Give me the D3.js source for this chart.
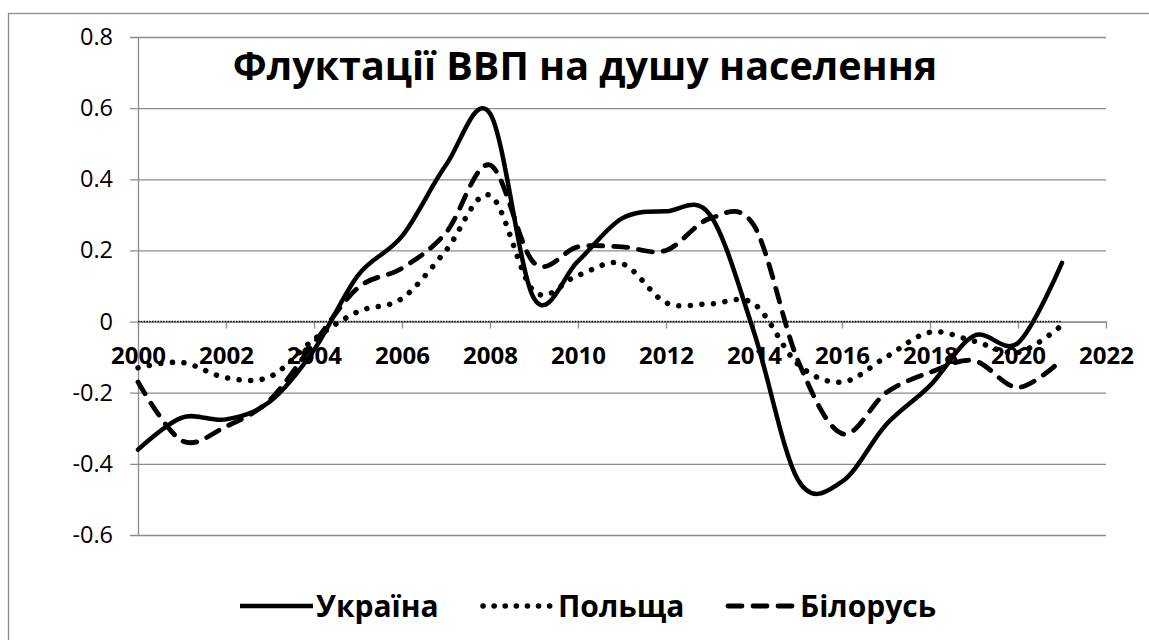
<!DOCTYPE html>
<html>
<head>
<meta charset="utf-8">
<script src="https://cdn.jsdelivr.net/npm/d3@7"></script>
<style>
  body { margin: 0; background: #fff; }
  svg { display: block; font-family: "Open Sans", sans-serif; }
</style>
</head>
<body>
<div id="chart"></div>
<script>
// yearly values
var years = [2000, 2001, 2002, 2003, 2004, 2005, 2006, 2007, 2008, 2009, 2010,
             2011, 2012, 2013, 2014, 2015, 2016, 2017, 2018, 2019, 2020, 2021];
var ukraine = [-0.36, -0.27, -0.275, -0.225, -0.08, 0.13, 0.24, 0.44, 0.585, 0.065, 0.17,
               0.29, 0.31, 0.30, -0.03, -0.445, -0.45, -0.29, -0.18, -0.04, -0.06, 0.165];
var poland = [-0.13, -0.115, -0.158, -0.155, -0.05, 0.028, 0.065, 0.2, 0.355, 0.085, 0.13,
              0.163, 0.053, 0.05, 0.05, -0.12, -0.17, -0.1, -0.03, -0.055, -0.087, -0.01];
var belarus = [-0.17, -0.335, -0.295, -0.22, -0.06, 0.095, 0.15, 0.25, 0.44, 0.165, 0.21,
               0.21, 0.2, 0.29, 0.27, -0.11, -0.315, -0.2, -0.143, -0.11, -0.185, -0.107];
var seriesNames = ["Україна", "Польща", "Білорусь"];
var xTicks = [2000, 2002, 2004, 2006, 2008, 2010, 2012, 2014, 2016, 2018, 2020, 2022];
var yTicks = [-0.6, -0.4, -0.2, 0, 0.2, 0.4, 0.6, 0.8];
var title = "Флуктації ВВП на душу населення";

var W = 1149, H = 640;
var svg = d3.select("#chart").append("svg").attr("width", W).attr("height", H);

// outer chart frame (runs off the right and bottom edge)
svg.append("rect")
  .attr("x", 8.5).attr("y", 13.5)
  .attr("width", 1300).attr("height", 800)
  .style("fill", "none").style("stroke", "#8c8c8c").style("stroke-width", 1.3);

var x = d3.scaleLinear().domain([2000, 2022]).range([138, 1106]);
var y = d3.scaleLinear().domain([-0.6, 0.8]).range([535, 37]);

var grey = "#8c8c8c";

// horizontal gridlines + y ticks
var yAxis = svg.append("g")
  .attr("transform", "translate(" + x(2000) + ",0)")
  .call(d3.axisLeft(y).tickValues(yTicks).tickSizeInner(-(x(2022) - x(2000)))
        .tickSizeOuter(0).tickPadding(25)
        .tickFormat(function(d) { return d === 0 ? "0" : d.toFixed(1); }));
yAxis.selectAll(".tick line").attr("x1", -8).style("stroke", grey).style("stroke-width", 1.3);
yAxis.select(".domain").style("stroke", grey).style("stroke-width", 1.3);
yAxis.selectAll("text")
  .style("font-family", "Open Sans").style("font-size", "23.5px").style("fill", "#000");

// x axis at zero
var xAxis = svg.append("g")
  .attr("transform", "translate(0," + y(0) + ")")
  .call(d3.axisBottom(x).tickValues(xTicks).tickSizeInner(7).tickSizeOuter(0)
        .tickPadding(18).tickFormat(d3.format("d")));
xAxis.selectAll(".tick line").style("stroke", grey).style("stroke-width", 1.3);
xAxis.select(".domain").style("stroke", grey).style("stroke-width", 1.3);
xAxis.selectAll("text")
  .style("font-family", "Open Sans").style("font-size", "24px")
  .style("font-weight", "bold").style("fill", "#000");

// thin dotted zero line over the axis
svg.append("line")
  .attr("x1", x(years[0])).attr("x2", x(years[years.length - 1]))
  .attr("y1", y(0)).attr("y2", y(0))
  .style("stroke", "#000").style("stroke-width", 1.4)
  .style("stroke-dasharray", "1.4,1.4");

var line = d3.line()
  .x(function(d, i) { return x(years[i]); })
  .y(function(d) { return y(d); })
  .curve(d3.curveCardinal.tension(0));

var styles = [
  { data: ukraine, width: 4.5, dash: null },
  { data: poland, width: 5.5, dash: "0.1,11.5" },
  { data: belarus, width: 4.8, dash: "14,11" }
];

svg.selectAll("path.series")
  .data(styles)
  .enter()
  .append("path")
  .attr("class", "series")
  .attr("d", function(d) { return line(d.data); })
  .style("fill", "none")
  .style("stroke", "#000")
  .style("stroke-width", function(d) { return d.width; })
  .style("stroke-linecap", "round")
  .style("stroke-linejoin", "round")
  .style("stroke-dasharray", function(d) { return d.dash; });

// title
svg.append("text")
  .attr("x", 585).attr("y", 80)
  .attr("text-anchor", "middle")
  .style("font-family", "Open Sans").style("font-size", "39.5px")
  .style("font-weight", "bold")
  .text(title);

// legend
var legendX = [240, 480, 725];
var legend = svg.selectAll("g.legend")
  .data(styles)
  .enter()
  .append("g")
  .attr("class", "legend")
  .attr("transform", function(d, i) { return "translate(" + legendX[i] + ",606)"; });

legend.append("line")
  .attr("x1", function(d, i) { return i === 0 ? 0 : 3; })
  .attr("x2", function(d, i) { return i === 0 ? 73 : 70; })
  .style("stroke", "#000")
  .style("stroke-width", function(d) { return d.width; })
  .style("stroke-linecap", function(d, i) { return i === 0 ? "butt" : "round"; })
  .style("stroke-dasharray", function(d, i) { return i === 1 ? "0.1,11" : (i === 2 ? "14,11" : null); });

legend.append("text")
  .attr("x", function(d, i) { return i === 0 ? 76 : (i === 1 ? 78 : 75); })
  .attr("y", 11)
  .style("font-family", "Open Sans").style("font-size", "30px")
  .style("font-weight", "bold")
  .text(function(d, i) { return seriesNames[i]; });
</script>
</body>
</html>
